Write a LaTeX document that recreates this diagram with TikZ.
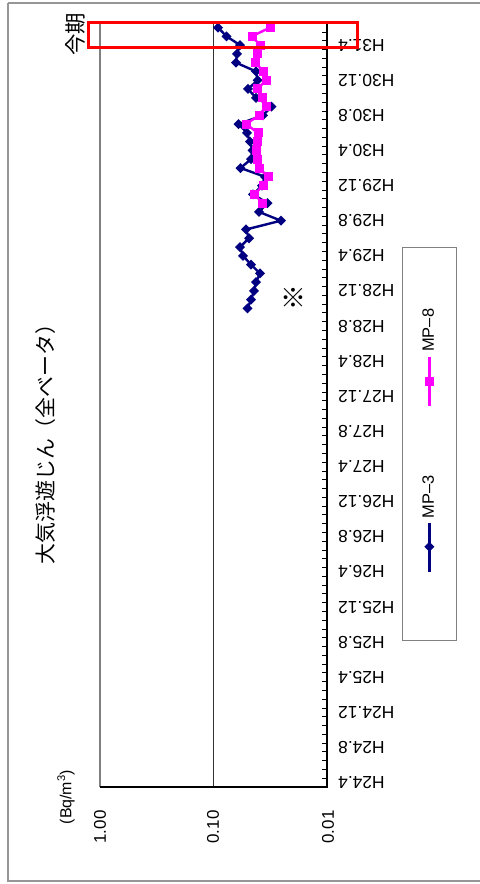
\documentclass[tikz,border=0pt]{standalone}
\usepackage{fontspec}
\setmainfont{Liberation Sans}
\newfontfamily\jpfont{Noto Sans CJK JP}
\definecolor{mpnavy}{RGB}{0,0,128}
\definecolor{mpmag}{RGB}{255,0,255}
\definecolor{framegray}{RGB}{150,150,150}
\definecolor{plotgray}{RGB}{128,128,128}
\tikzset{
  datelabel/.style={rotate=180,anchor=east,inner sep=0pt,font=\fontsize{17.5}{20}\selectfont},
  vallabel/.style={rotate=90,inner sep=0pt,font=\fontsize{17}{20}\selectfont},
  seriesA/.style={mpnavy,line width=2.4pt,line join=round},
  seriesB/.style={mpmag,line width=2.4pt,line join=round},
  axisline/.style={black,line width=1.5pt},
  tickmark/.style={black,line width=0.8pt},
}
\begin{document}
\begin{tikzpicture}[x=1bp,y=-1bp]
\useasboundingbox (0,0) rectangle (480,884);
% outer chart frame
\draw[framegray,line width=1.5pt] (8,3) -- (500,3);
\draw[framegray,line width=1.5pt] (8,3) -- (8,881) -- (500,881);
% plot area frame
\draw[plotgray,line width=1.5pt] (100,787) -- (100,23) -- (327,23);
% gridline at 0.10
\draw[black!80,line width=0.8pt] (213,23) -- (213,787);
% axes
\coordinate (origin) at (327,787);
\coordinate (topend) at (327,23);
\coordinate (leftend) at (100,787);
\draw[axisline] (leftend) -- (origin) -- (topend);
% ticks
\foreach \k in {0,...,87}
  \draw[tickmark] (322,{787-\k*8.78}) -- (327,{787-\k*8.78});
% date labels
\foreach \lab [count=\n from 0] in {H24.4,H24.8,H24.12,H25.4,H25.8,H25.12,H26.4,H26.8,H26.12,H27.4,H27.8,H27.12,H28.4,H28.8,H28.12,H29.4,H29.8,H29.12,H30.4,H30.8,H30.12,H31.4}
  \node[datelabel] (d\n) at (338,{787-(4*\n+0.5)*8.78}) {\lab};
% value labels
\node[vallabel] (v1) at (100,827) {1.00};
\node[vallabel] (v2) at (213,827) {0.10};
\node[vallabel] (v3) at (328,827) {0.01};
\node[rotate=90,inner sep=0pt,font=\fontsize{16}{18}\selectfont] (unit) at (66,797) {(Bq/m\textsuperscript{3})};
% title
\node[rotate=90,inner sep=0pt,font=\jpfont\fontsize{21}{24}\selectfont] (title) at (46,439) {大気浮遊じん（全ベータ）};
\node[rotate=90,inner sep=0pt,font=\jpfont\fontsize{21.5}{24}\selectfont] (konki) at (75,34) {今期};
\node[inner sep=0pt,font=\jpfont\fontsize{26}{28}\selectfont] (kome) at (293,298) {※};
% data MP-3
\foreach \i/\x in {54/247.5,55/251,56/254,57/256,58/260,59/251,60/243,61/240,62/249,63/246,64/281,65/259,66/267.5,67/253,68/262,69/265,70/240.5,71/251,72/252.5,73/250,74/247,75/238.5,76/263,77/271.5,78/256,79/248,80/257.7,81/256,82/236,83/237,84/240,85/226.5,86/218}
  \coordinate (a\i) at (\x,{787-(\i+0.5)*8.78});
\draw[seriesA] (a54) \foreach \i in {55,...,86} { -- (a\i) };
\foreach \i in {54,...,86}
  \fill[mpnavy,shift={(a\i)}] (-5,0) -- (0,-5) -- (5,0) -- (0,5) -- cycle;
% data MP-8
\foreach \i/\x in {66/262.5,67/254.5,68/263,69/268,70/259,71/257,72/256.5,73/257,74/258,75/246,76/259,77/266,78/262,79/257,80/266.5,81/263.3,82/255.5,83/257.5,84/260,85/252,86/270}
  \coordinate (b\i) at (\x,{787-(\i+0.5)*8.78});
\draw[seriesB] (b66) \foreach \i in {67,...,86} { -- (b\i) };
\foreach \i in {66,...,86}
  \fill[mpmag,shift={(b\i)}] (-4.5,-4.5) rectangle (4.5,4.5);
% legend
\draw[plotgray,line width=0.8pt] (402.7,247.3) rectangle (456,640.7);
\coordinate (l8a) at (429.3,356.7);
\coordinate (l8b) at (429.3,406);
\coordinate (l8m) at (429.3,381);
\draw[seriesB] (l8a) -- (l8b);
\fill[mpmag,shift={(l8m)}] (-4.5,-4.5) rectangle (4.5,4.5);
\node[vallabel,font=\fontsize{16.5}{18}\selectfont] (lab8) at (428.3,330.3) {MP–8};
\coordinate (l3a) at (429.3,522.7);
\coordinate (l3b) at (429.3,571.7);
\coordinate (l3m) at (429.3,546.7);
\draw[seriesA] (l3a) -- (l3b);
\fill[mpnavy,shift={(l3m)}] (-5,0) -- (0,-5) -- (5,0) -- (0,5) -- cycle;
\node[vallabel,font=\fontsize{16.5}{18}\selectfont] (lab3) at (428.3,497) {MP–3};
% red highlight box
\draw[red,line width=2.5pt] (88.3,22.7) rectangle (357.5,47.5);
\end{tikzpicture}
\end{document}
